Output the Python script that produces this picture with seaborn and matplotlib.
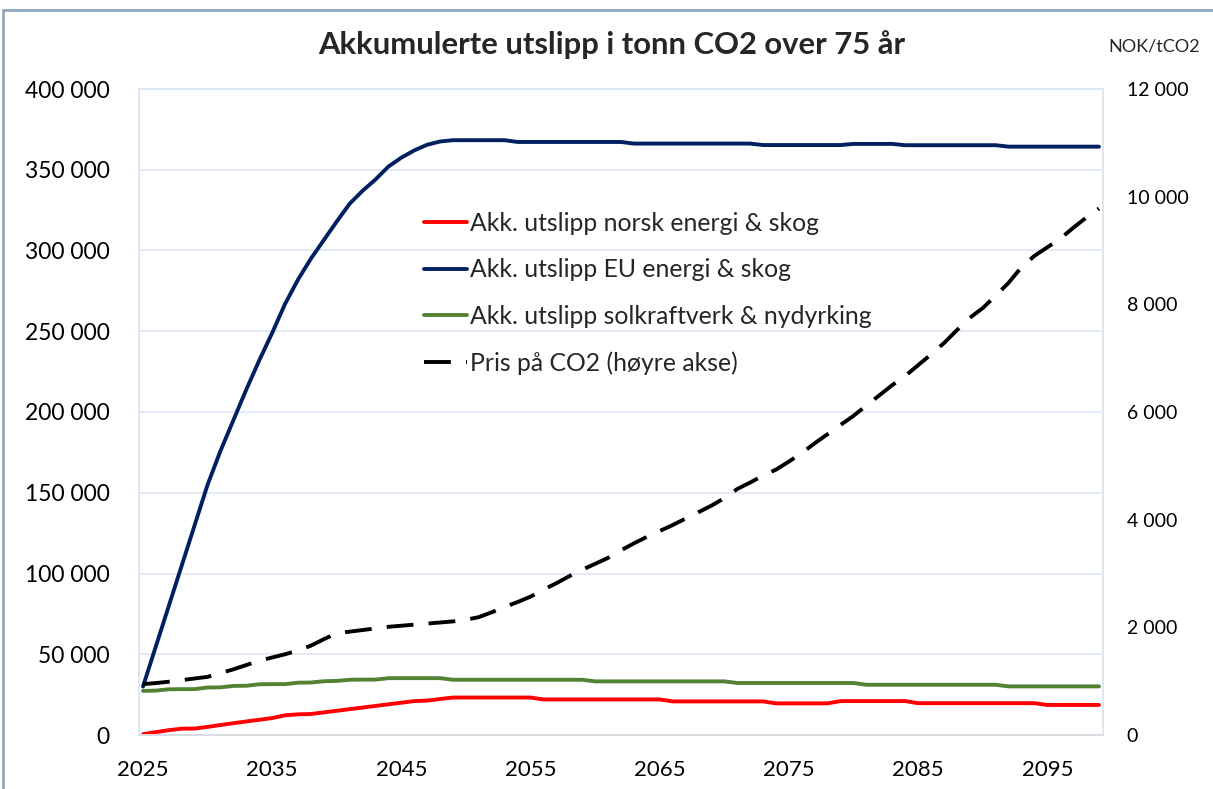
import numpy as np
import pandas as pd
import matplotlib
matplotlib.use('Agg')
import matplotlib.pyplot as plt
from matplotlib.ticker import FuncFormatter, MultipleLocator
from matplotlib.patches import Rectangle
import seaborn as sns

years = list(range(2025, 2100))

norsk = [500, 1800, 3000, 3900, 4000, 5000, 6200, 7300, 8400, 9400,
         10500, 12200, 12800, 13000, 14000, 15000, 16000, 17000, 18000, 19000,
         20000, 21000, 21300, 22300, 23200,
         23200, 23200, 23200, 23200, 23200, 23200,
         22000, 22000, 22000, 22000, 22000, 22000, 22000, 22000, 22000, 22000,
         20800, 20800, 20800, 20800, 20800, 20800, 20800, 20800,
         19600, 19600, 19600, 19600, 19600,
         21000, 21000, 21000, 21000, 21000, 21000,
         19700, 19700, 19700, 19700, 19700, 19700, 19700, 19700, 19700, 19700,
         18600, 18600, 18600, 18600, 18600]

eu = [30000, 55000, 80000, 105000, 130000, 155000, 176000, 195000, 214000, 232000,
      249000, 267000, 282000, 295000, 306500, 318000, 329000, 337000, 344000, 352000,
      357500, 362000, 365500, 367500, 368300, 368300, 368300, 368300, 368300,
      367200, 367200, 367200, 367200, 367200, 367200, 367200, 367200, 367200,
      366200, 366200, 366200, 366200, 366200, 366200, 366200, 366200, 366200, 366200,
      365300, 365300, 365300, 365300, 365300, 365300, 365300,
      366000, 366000, 366000, 366000,
      365200, 365200, 365200, 365200, 365200, 365200, 365200, 365200,
      364300, 364300, 364300, 364300, 364300, 364300, 364300, 364300]

solkraft = [27300, 27500, 28300, 28400, 28400, 29400, 29500, 30400, 30500, 31400,
            31500, 31500, 32400, 32500, 33300, 33500, 34200, 34300, 34300, 35200,
            35200, 35200, 35200, 35200,
            34200, 34200, 34200, 34200, 34200, 34200, 34200, 34200, 34200, 34200, 34200,
            33200, 33200, 33200, 33200, 33200, 33200, 33200, 33200, 33200, 33200, 33200,
            32200, 32200, 32200, 32200, 32200, 32200, 32200, 32200, 32200, 32200,
            31100, 31100, 31100, 31100, 31100, 31100, 31100, 31100, 31100, 31100, 31100,
            30100, 30100, 30100, 30100, 30100, 30100, 30100, 30100]

pris = [945, 965, 990, 1020, 1050, 1080, 1150, 1220, 1300, 1380,
        1440, 1500, 1570, 1660, 1780, 1890, 1920, 1950, 1980, 2010,
        2030, 2050, 2070, 2090, 2110, 2140, 2190, 2280, 2380, 2470,
        2570, 2700, 2820, 2950, 3070, 3180, 3290, 3430, 3560, 3680,
        3790, 3900, 4020, 4140, 4260, 4400, 4570, 4690, 4820, 4930,
        5080, 5240, 5420, 5590, 5760, 5930, 6120, 6310, 6500, 6670,
        6870, 7070, 7280, 7520, 7750, 7930, 8160, 8400, 8690, 8900,
        9060, 9220, 9420, 9610, 9780]

labels = ['Akk. utslipp norsk energi & skog',
          'Akk. utslipp EU energi & skog',
          'Akk. utslipp solkraftverk & nydyrking',
          'Pris på CO2 (høyre akse)']

df = pd.DataFrame({'year': years, 'norsk': norsk, 'eu': eu,
                   'sol': solkraft, 'pris': pris})

sns.set_theme(style='white')
plt.rcParams['font.family'] = ['Lato', 'DejaVu Sans']

fig = plt.figure(figsize=(12.13, 7.89), dpi=100)
ax = fig.add_axes([139/1213, 1-735/789, (1103-139)/1213, (735-89)/789])
ax2 = ax.twinx()

lw = 2.8
sns.lineplot(data=df, x='year', y='norsk', ax=ax, color='#FF0000', lw=lw, label=labels[0], legend=False)
sns.lineplot(data=df, x='year', y='eu', ax=ax, color='#002060', lw=lw, label=labels[1], legend=False)
sns.lineplot(data=df, x='year', y='sol', ax=ax, color='#548235', lw=lw, label=labels[2], legend=False)
sns.lineplot(data=df, x='year', y='pris', ax=ax2, color='black', lw=lw, label=labels[3], legend=False)
ax2.lines[0].set_dashes((6.9, 3.9))

fmt = FuncFormatter(lambda v, p: f"{v:,.0f}".replace(",", " "))
ax.set_ylim(0, 400000)
ax2.set_ylim(0, 12000)
ax.yaxis.set_major_locator(MultipleLocator(50000))
ax2.yaxis.set_major_locator(MultipleLocator(2000))
ax.yaxis.set_major_formatter(fmt)
ax2.yaxis.set_major_formatter(fmt)
ax.set_xlim(2024.69, 2099.31)
ax.set_xticks(list(range(2025, 2100, 10)))
ax.set_xlabel('')
ax.set_ylabel('')
ax2.set_ylabel('')

ax.grid(axis='y', color='#DDE8F4', lw=1.2)
ax.grid(axis='x', visible=False)
ax2.grid(False)
ax.set_axisbelow(True)

ax.tick_params(axis='y', length=0, pad=21, labelsize=16.5, labelcolor='black')
ax.tick_params(axis='x', length=0, pad=18, labelsize=16, labelcolor='black')
ax2.tick_params(axis='y', length=0, pad=17, labelsize=14, labelcolor='black')

for a in (ax, ax2):
    for s in a.spines.values():
        s.set_color('#DDE8F4')
        s.set_linewidth(1.2)
ax.spines['bottom'].set_color('#D9DDE3')
ax2.spines['bottom'].set_color('#D9DDE3')

h1, l1 = ax.get_legend_handles_labels()
h2, l2 = ax2.get_legend_handles_labels()
ax2.legend(h1 + h2, l1 + l2, loc='upper left', bbox_to_anchor=(0.2957, 0.81),
           frameon=False, fontsize=17.8, handlelength=1.75, handletextpad=0.12,
           labelspacing=0.95, borderaxespad=0, borderpad=0)

fig.text(612/1213, 1-45/789, 'Akkumulerte utslipp i tonn CO2 over 75 år',
         ha='center', va='center', fontsize=22.3, fontweight='bold')
fig.text(1154/1213, 1-47/789, 'NOK/tCO2', ha='center', va='center', fontsize=13)

fig.patches.append(Rectangle((3/1213, -0.01), 1.2, 1-10/789 + 0.01,
                             transform=fig.transFigure, fill=False,
                             edgecolor='#8FA6BE', lw=2))

fig.savefig('out.png', dpi=100)
